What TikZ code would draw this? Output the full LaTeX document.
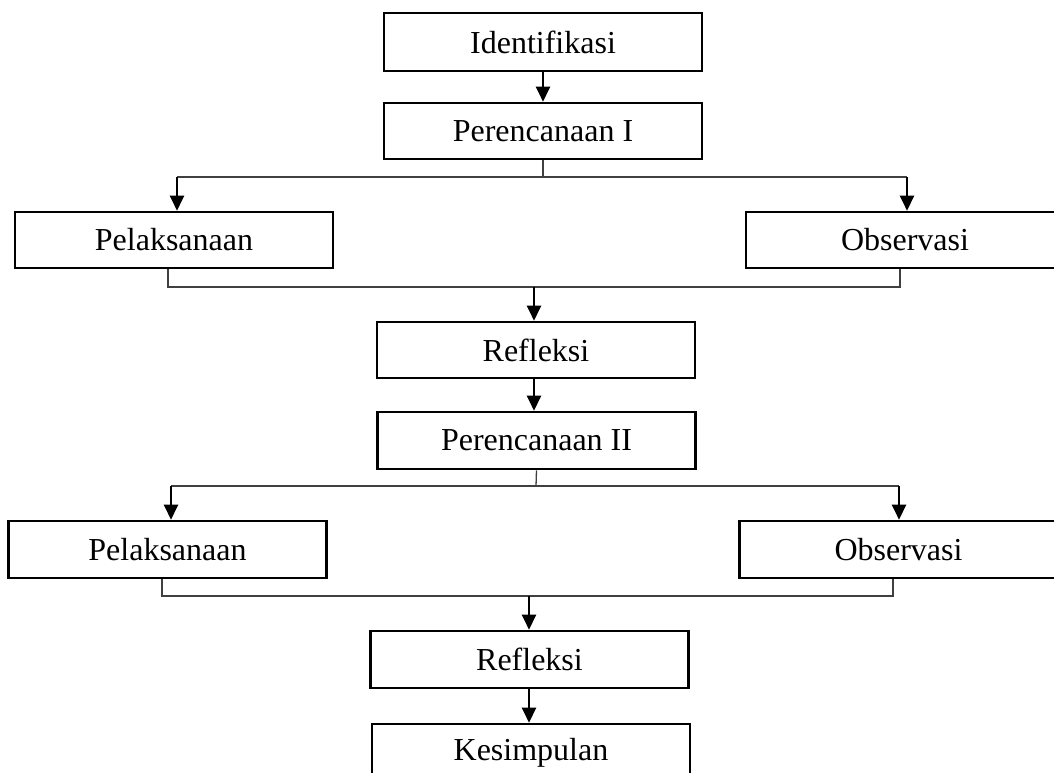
\documentclass[tikz,border=0pt]{standalone}
\usepackage{fontspec}
\setmainfont{Liberation Serif}
\usetikzlibrary{arrows.meta}
\begin{document}
\begin{tikzpicture}[x=1pt,y=-1pt,
  box/.style={draw=black, line width=2.6pt, minimum width=318pt, minimum height=56pt, inner sep=0pt, font=\fontsize{32}{36}\selectfont},
  conn/.style={draw=black!75, line width=1.3pt},
  arr/.style={draw=black, line width=2.4pt, -{Triangle[width=14pt,length=15pt]}}]
\useasboundingbox (0,0) rectangle (1054,773);
\clip (0,0) rectangle (1054,773);
\fill[white] (0,0) rectangle (1054,773);
% nodes
\node[box, minimum height=58pt] (id) at (543,42) {Identifikasi};
\node[box] (pr1) at (543,131) {Perencanaan I};
\node[box] (pel1) at (174,240) {Pelaksanaan};
\node[box] (obs1) at (905,240) {Observasi};
\node[box] (ref1) at (536,350) {Refleksi};
\node[box, minimum height=57pt] (pr2) at (536.5,440.5) {Perencanaan II};
\node[box, minimum height=57pt] (pel2) at (167.5,549.5) {Pelaksanaan};
\node[box, minimum height=57pt] (obs2) at (898.5,549.5) {Observasi};
\node[box, minimum height=57pt] (ref2) at (529.5,659.5) {Refleksi};
\node[box, minimum height=57pt] (kes) at (531,752.5) {Kesimpulan};
% junction coordinates
\coordinate (s1) at (543,177);
\coordinate (s1L) at (177,177);
\coordinate (s1R) at (907,177);
\coordinate (m1L) at (168,287);
\coordinate (m1R) at (900,287);
\coordinate (m1) at (534,287);
\coordinate (s2) at (536,486);
\coordinate (s2L) at (171,486);
\coordinate (s2R) at (899,486);
\coordinate (m2L) at (162,596);
\coordinate (m2R) at (893,596);
\coordinate (m2) at (529,596);
% connectors
\draw[arr] (id.south) -- (pr1.north);
\draw[conn] (pr1.south) -- (s1);
\draw[conn] (s1L) -- (s1R);
\draw[arr] (s1L) -- (s1L |- pel1.north);
\draw[arr] (s1R) -- (s1R |- obs1.north);
\draw[conn] (m1L |- pel1.south) -- (m1L) -- (m1R) -- (m1R |- obs1.south);
\draw[arr] (m1) -- (m1 |- ref1.north);
\draw[arr] (ref1.south -| m1) -- (m1 |- pr2.north);
\draw[conn] (pr2.south) -- (s2);
\draw[conn] (s2L) -- (s2R);
\draw[arr] (s2L) -- (s2L |- pel2.north);
\draw[arr] (s2R) -- (s2R |- obs2.north);
\draw[conn] (m2L |- pel2.south) -- (m2L) -- (m2R) -- (m2R |- obs2.south);
\draw[arr] (m2) -- (m2 |- ref2.north);
\draw[arr] (ref2.south -| m2) -- (m2 |- kes.north);
\end{tikzpicture}
\end{document}
